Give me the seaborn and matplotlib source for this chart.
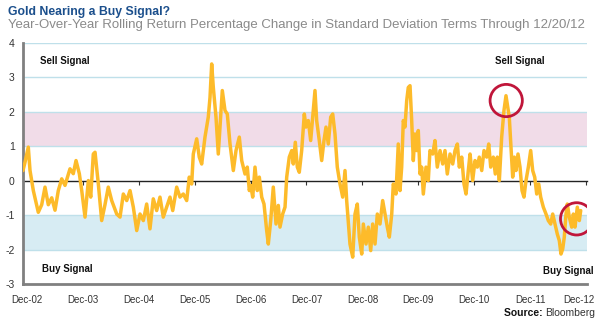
import matplotlib
matplotlib.use("Agg")
import matplotlib.pyplot as plt
import matplotlib.transforms as mtransforms
import seaborn as sns
import pandas as pd

sns.set_style("white")
plt.rcParams["font.family"] = ["Liberation Sans", "DejaVu Sans"]

# ---- data (decimal years, z-score values) ----
years = [2002.845, 2002.881, 2002.940, 2002.971, 2003.030, 2003.119, 2003.180, 2003.239, 2003.298, 2003.359,
         2003.418, 2003.477, 2003.538, 2003.597, 2003.686, 2003.745, 2003.794, 2003.853, 2003.896, 2003.955,
         2004.014, 2004.057, 2004.103, 2004.134, 2004.193, 2004.253, 2004.312, 2004.371, 2004.432, 2004.522,
         2004.581, 2004.640, 2004.701, 2004.760,
         2004.819, 2004.880, 2004.939, 2004.998, 2005.058, 2005.117, 2005.176, 2005.237, 2005.296, 2005.355,
         2005.416, 2005.475, 2005.524, 2005.595, 2005.654, 2005.713, 2005.774, 2005.820, 2005.863, 2005.892,
         2005.953, 2005.999, 2006.042, 2006.101, 2006.160, 2006.191, 2006.221, 2006.250, 2006.298, 2006.339,
         2006.370, 2006.411, 2006.459, 2006.500, 2006.549, 2006.608, 2006.656, 2006.715, 2006.758, 2006.817,
         2006.858, 2006.894,
         2006.919, 2006.955, 2006.996, 2007.037, 2007.073, 2007.116, 2007.157, 2007.205, 2007.234, 2007.277,
         2007.323, 2007.372, 2007.413, 2007.443, 2007.491, 2007.533, 2007.563, 2007.609, 2007.653, 2007.681,
         2007.717, 2007.753, 2007.788, 2007.831, 2007.878, 2007.908, 2007.949, 2007.992, 2008.039, 2008.069,
         2008.099, 2008.146, 2008.189, 2008.230, 2008.266, 2008.307, 2008.350, 2008.386, 2008.427, 2008.468,
         2008.517, 2008.565, 2008.606, 2008.636,
         2008.695, 2008.744, 2008.785, 2008.826, 2008.862, 2008.905, 2008.934, 2008.982, 2009.023, 2009.066,
         2009.101, 2009.143, 2009.184, 2009.232, 2009.280, 2009.322, 2009.363, 2009.399, 2009.442, 2009.470,
         2009.518, 2009.559, 2009.590, 2009.620, 2009.649, 2009.679, 2009.710, 2009.738, 2009.769, 2009.799,
         2009.828, 2009.858, 2009.889, 2009.917, 2009.948, 2009.978, 2010.007, 2010.055, 2010.096, 2010.126,
         2010.175, 2010.216, 2010.257, 2010.306, 2010.354, 2010.395, 2010.436, 2010.485, 2010.533, 2010.574,
         2010.616, 2010.651, 2010.694, 2010.735, 2010.771, 2010.812, 2010.843,
         2010.890, 2010.932, 2010.973, 2011.008, 2011.052, 2011.093, 2011.141, 2011.177, 2011.213, 2011.259,
         2011.295, 2011.331, 2011.367, 2011.409, 2011.450, 2011.486, 2011.517, 2011.545, 2011.576, 2011.606,
         2011.635, 2011.665, 2011.701, 2011.737, 2011.773, 2011.808, 2011.844, 2011.886, 2011.928, 2011.964,
         2012.000, 2012.036, 2012.072, 2012.107, 2012.154, 2012.202, 2012.243, 2012.286, 2012.322, 2012.363,
         2012.404, 2012.440, 2012.470, 2012.501, 2012.529, 2012.560, 2012.583, 2012.619, 2012.662, 2012.691,
         2012.721, 2012.762, 2012.798, 2012.823]

values = [0.29, 0.53, 0.97, 0.29, -0.29, -0.92, -0.7, -0.19, -0.7, -0.5,
          -0.86, -0.29, 0.05, -0.14, 0.34, 0.2, 0.58, 0.2, -0.29, -1.06,
          0, -0.48, 0.77, 0.82, -0.1, -1.16, -0.7, -0.19, -0.58, -0.97,
          -1.06, -0.39, -0.58, -0.29,
          -0.77, -1.45, -0.97, -1.16, -0.68, -1.4, -0.53, -0.87, -0.48, -1.06,
          -0.77, -0.48, -0.87, -0.19, -0.48, -0.39, -0.58, 0.1, -0.1, 0.77,
          1.21, 0.68, 0.48, 1.26, 1.84, 2.41, 3.38, 2.7, 1.84, 0.77,
          1.55, 2.61, 2.03, 1.93, 1.06, 0.29, 0.87, 1.26, 0.58, 0.19,
          0.39, -0.29,
          -0.14, -0.48, 0.39, -0.29, 0.1, -0.48, -0.68, -1.45, -1.84, -1.16,
          -0.19, -1.26, -0.72, -1.35, -0.97, -0.77, 0.1, 0.68, 0.87, 0.48,
          1.11, 0.39, 0.24, 0.87, 1.93, 1.55, 1.74, 1.16, 2.03, 2.61,
          1.74, 1.16, 0.58, 1.16, 1.55, 1.06, 1.84, 1.93, 1.35, 0.39,
          -0.1, -0.48, 0.29, -0.58,
          -1.84, -2.22, -0.97, -0.68, -1.64, -2.13, -1.26, -1.84, -1.35, -2.03,
          -1.26, -1.84, -0.97, -1.26, -0.58, -0.97, -1.35, -1.64, -0.97, -0.1,
          -0.39, 1.06, -0.29, 0.39, 1.74, 1.55, 2.32, 2.7, 2.75, 1.74,
          0.58, 1.35, 0.87, 1.45, 0.19, 0.39, -0.39, 0.39, 0, 0.87,
          0.77, 1.16, 0.39, 0.87, 0.48, 0.87, 0.19, 0.77, 0.48, 0.87,
          1.06, 0.39, 0.68, -0.1, -0.39, 0.29, 0.77,
          0, 0.58, 0.39, 0.68, 0.29, 0.87, 0.68, 1.06, 0.39, 0.68,
          0.19, 0.68, 0, 1.26, 2.03, 2.46, 2.13, 1.84, 0.97, 0.1,
          0.68, 0.29, 0.77, 0.39, -0.29, -0.48, 0, 0.39, 0.87, 0.29,
          0.1, -0.39, -0.1, -0.48, -0.77, -0.97, -1.16, -1.26, -0.97, -1.26,
          -1.55, -1.74, -2.13, -1.98, -1.64, -0.97, -0.68, -1.06, -1.35, -0.97,
          -1.35, -0.77, -1.16, -0.87]

tick_years = [2002.917 + k for k in range(11)]
tick_labels = ["Dec-02", "Dec-03", "Dec-04", "Dec-05", "Dec-06", "Dec-07",
               "Dec-08", "Dec-09", "Dec-10", "Dec-11", "Dec-12"]
y_ticks = [-3, -2, -1, 0, 1, 2, 3, 4]
sell_band = (1, 2)
buy_band = (-2, -1)
circle_years = [2011.49, 2012.75]
circle_vals = [2.32, -1.11]

df = pd.DataFrame({"year": years, "z": values})

GOLD = "#fdbb2a"
GRID = "#bfe0ea"

fig = plt.figure(figsize=(6, 3.25), dpi=100)
ax = fig.add_axes([0.0383, 0.126, 0.9400, 0.743])
ax.set_xlim(2002.845, 2012.935)
ax.set_ylim(-3, 4)

ax.axhspan(*sell_band, color="#f1dce8", lw=0, zorder=0)
ax.axhspan(*buy_band, color="#d7ecf3", lw=0, zorder=0)
for yv in [1, 2, 3, 4, -1, -2]:
    ax.axhline(yv, color=GRID, lw=1.0, zorder=1)

sns.lineplot(data=df, x="year", y="z", ax=ax, color=GOLD, linewidth=2.5,
             zorder=3, sort=False)

ax.scatter(circle_years, circle_vals, s=540, facecolors="none",
           edgecolors="#c0163a", linewidths=2.0, zorder=4)

# zero line with year ticks
zero_ax = ax.secondary_xaxis(3 / 7)
zero_ax.spines["bottom"].set_color("#222222")
zero_ax.spines["bottom"].set_linewidth(1.0)
zero_ax.set_xticks(tick_years[1:])
zero_ax.set_xticklabels([])
zero_ax.tick_params(axis="x", length=3, width=0.8, color="#333333", direction="out")

for s in ["top", "right"]:
    ax.spines[s].set_visible(False)
ax.spines["left"].set_color("#808080")
ax.spines["left"].set_linewidth(2.0)
ax.spines["bottom"].set_color("#808080")
ax.spines["bottom"].set_linewidth(2.0)

ax.set_xticks(tick_years)
ax.set_xticklabels(tick_labels)
ax.set_yticks(y_ticks)
ax.set_yticklabels([str(v) for v in y_ticks])
ax.tick_params(axis="x", length=0, pad=8, labelsize=7, labelcolor="#333333")
ax.tick_params(axis="y", length=3, width=0.8, color="#555555", pad=3,
               labelsize=7.5, labelcolor="#333333")
ax.set_xlabel("")
ax.set_ylabel("")

# nudge the last date label inward so it stays inside the figure
last = ax.get_xticklabels()[-1]
last.set_transform(last.get_transform() +
                   mtransforms.ScaledTranslation(-5 / 72, 0, fig.dpi_scale_trans))

ytr = ax.get_yaxis_transform()
lbl = dict(fontsize=7, fontweight="bold", color="#111111", transform=ytr)
ax.text(0.031, 3.48, "Sell Signal", va="center", ha="left", **lbl)
ax.text(0.837, 3.48, "Sell Signal", va="center", ha="left", **lbl)
ax.text(0.033, -2.55, "Buy Signal", va="center", ha="left", **lbl)
ax.text(1.011, -2.61, "Buy Signal", va="center", ha="right", **lbl)

fig.text(8 / 600, 1 - 12 / 325, "Gold Nearing a Buy Signal?", fontsize=8.8,
         fontweight="bold", color="#1b4f8c", ha="left", va="center")
fig.text(8 / 600, 1 - 25 / 325,
         "Year-Over-Year Rolling Return Percentage Change in Standard Deviation Terms Through 12/20/12",
         fontsize=9.5, color="#8a8a8a", ha="left", va="center")

bl = fig.text(595 / 600, 1 - 313 / 325, "Bloomberg", fontsize=7.5, color="#333333",
              ha="right", va="center")
ax.annotate("Source: ", xy=(0, 0.5), xycoords=bl, fontsize=7.5, fontweight="bold",
            color="#111111", ha="right", va="center", annotation_clip=False)

fig.savefig("out.png", dpi=100, facecolor="white")
